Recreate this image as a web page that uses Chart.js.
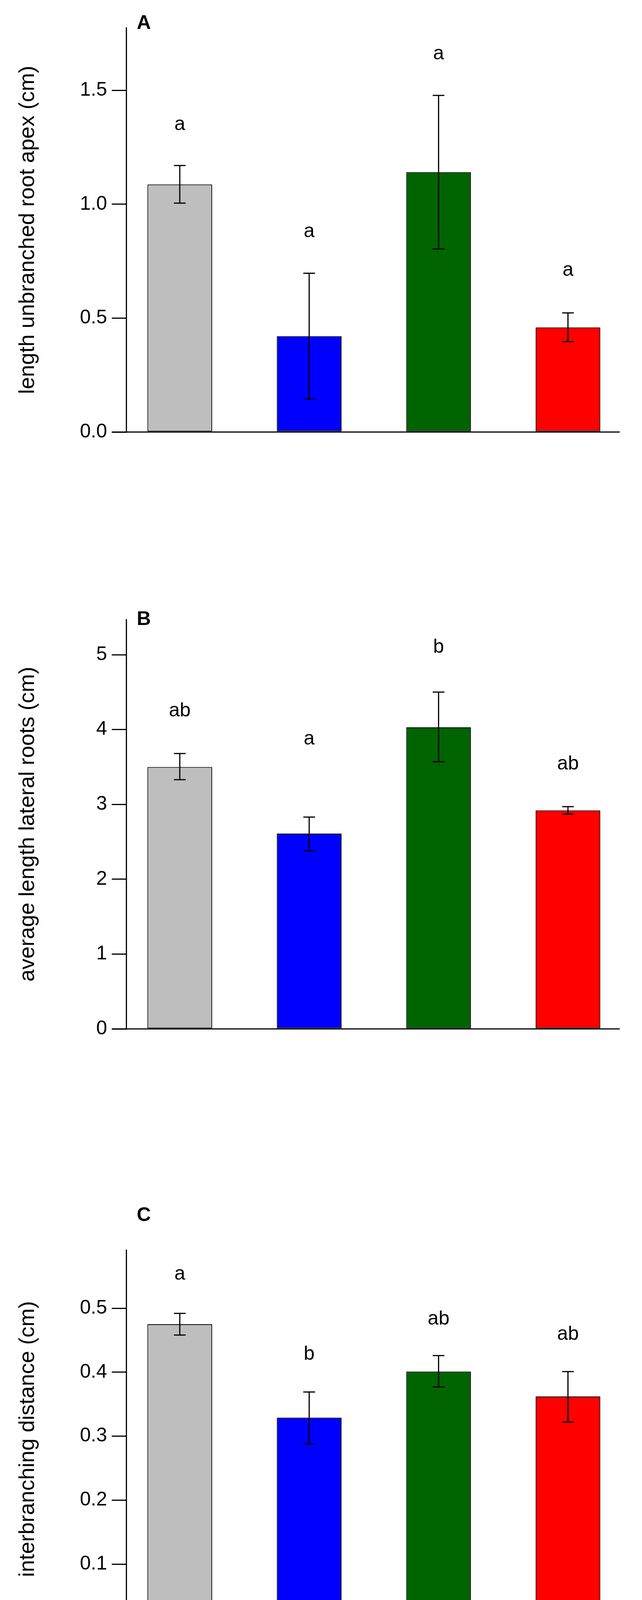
<!DOCTYPE html>
<html><head><meta charset="utf-8">
<script src="https://cdn.jsdelivr.net/npm/chart.js@4"></script>
<style>body{margin:0;background:#fff}.p{position:absolute;left:0;width:1643px;height:1526px}</style>
</head><body>
<div class="p" style="top:0"><canvas id="cA"></canvas></div>
<div class="p" style="top:1526px"><canvas id="cB"></canvas></div>
<div class="p" style="top:3052px"><canvas id="cC"></canvas></div>
<script>
const categories = ["control","homog.","depot","layer"];
const colors = ["#BEBEBE","#0000FF","#006400","#FF0000"];
const meansA = [1.087,0.421,1.141,0.459];
const lowA = [1.005,0.144,0.804,0.397];
const highA = [1.170,0.697,1.478,0.523];
const lettersA = ["a","a","a","a"];
const letterYA = [1.35,0.88,1.66,0.71];
const ticksA = [0,0.5,1.0,1.5];
const meansB = [3.50,2.61,4.03,2.92];
const lowB = [3.33,2.38,3.57,2.87];
const highB = [3.68,2.83,4.50,2.97];
const lettersB = ["ab","a","b","ab"];
const letterYB = [4.25,3.87,5.1,3.54];
const ticksB = [0,1,2,3,4,5];
const meansC = [0.475,0.329,0.401,0.362];
const lowC = [0.458,0.288,0.377,0.322];
const highC = [0.492,0.369,0.426,0.401];
const lettersC = ["a","b","ab","ab"];
const letterYC = [0.553,0.428,0.483,0.459];
const ticksC = [0,0.1,0.2,0.3,0.4,0.5];

const FONT = "'Liberation Sans', Arial, sans-serif";
function make(id, panel, means, low, high, letters, letterY, ticks, ymax, dec, title, top, bottom, showX){
  const overlay = {
    id:'ov',
    afterDatasetsDraw(chart){
      const c = chart.ctx, x = chart.scales.x, y = chart.scales.y;
      c.save();
      c.strokeStyle='#000'; c.lineWidth=3;
      for(let i=0;i<means.length;i++){
        const px = x.getPixelForValue(i);
        const y1 = y.getPixelForValue(low[i]), y2 = y.getPixelForValue(high[i]);
        c.beginPath(); c.moveTo(px,y1); c.lineTo(px,y2);
        c.moveTo(px-15,y1); c.lineTo(px+15,y1);
        c.moveTo(px-15,y2); c.lineTo(px+15,y2); c.stroke();
        c.fillStyle='#000'; c.font='50px '+FONT; c.textAlign='center'; c.textBaseline='middle';
        c.fillText(letters[i], px, y.getPixelForValue(letterY[i]));
      }
      const by = y.getPixelForValue(0);
      c.beginPath(); c.moveTo(286,by); c.lineTo(1586,by); c.stroke();
      c.font='bold 50px '+FONT; c.textAlign='left'; c.textBaseline='middle';
      c.fillText(panel, 350, 60);
      c.restore();
    }
  };
  new Chart(document.getElementById(id), {
    type:'bar',
    data:{datasets:[{data:means.map((v,i)=>({x:i,y:v})), backgroundColor:colors, borderColor:'#000', borderWidth:2, borderSkipped:false, categoryPercentage:1, barPercentage:0.5}]},
    options:{
      responsive:true, maintainAspectRatio:false, animation:false,
      layout:{padding:{top:top,right:57,left:0,bottom:0}},
      plugins:{legend:{display:false},tooltip:{enabled:false}},
      scales:{
        x:{type:'linear',min:-0.414,max:3.40,offset:false,
          grid:{display:false,drawTicks:false,offset:false}, border:{display:false},
          afterFit(s){s.height=1526-bottom;},
          afterBuildTicks(s){s.ticks=[0,1,2,3].map(v=>({value:v}));},
          ticks:{display:showX,autoSkip:false,minRotation:90,maxRotation:90,padding:30,color:'#000',font:{size:50,family:FONT},callback:(v)=>categories[v]}},
        y:{min:0,max:ymax,
          grid:{drawOnChartArea:false,tickLength:37,color:'#000',lineWidth:3},
          border:{display:true,color:'#000',width:3},
          afterFit(s){s.width=323;},
          afterBuildTicks(s){s.ticks=ticks.map(v=>({value:v}));},
          ticks:{padding:12,color:'#000',font:{size:50,family:FONT},callback:(v)=>Number(v).toFixed(dec)},
          title:{display:true,text:title,color:'#000',font:{size:56,family:FONT},padding:{top:38,bottom:0}}}
      }
    },
    plugins:[overlay]
  });
}
make('cA','A',meansA,lowA,highA,lettersA,letterYA,ticksA,1.775,1,'length unbranched root apex (cm)',71,1106,false);
make('cB','B',meansB,lowB,highB,lettersB,letterYB,ticksB,5.47,0,'average length lateral roots (cm)',60,1108,false);
make('cC','C',meansC,lowC,highC,lettersC,letterYC,ticksC,0.591,1,'interbranching distance (cm)',148,1116,true);
</script>
</body></html>
